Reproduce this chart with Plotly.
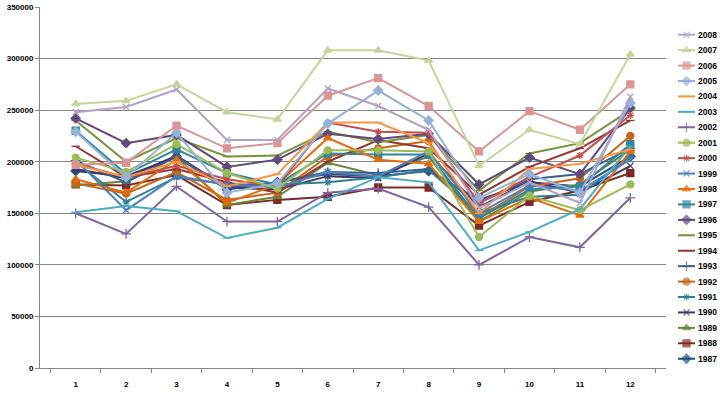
import plotly.graph_objects as go

months = ["1", "2", "3", "4", "5", "6", "7", "8", "9", "10", "11", "12"]
years = [str(y) for y in range(1987, 2009)]

Y1987 = [191000, 186000, 205000, 173000, 180000, 188000, 186000, 191000, 163000, 180000, 176000, 205000]
Y1988 = [178000, 177000, 187000, 158000, 163000, 166000, 175000, 175000, 138000, 161000, 172000, 189000]
Y1989 = [177000, 181000, 205000, 158000, 166000, 199000, 187000, 205000, 142000, 171000, 178000, 212000]
Y1990 = [193000, 184000, 206000, 175000, 173000, 186000, 184000, 208000, 156000, 181000, 170000, 196000]
Y1991 = [200000, 161000, 185000, 178000, 178000, 180000, 185000, 192000, 150000, 166000, 168000, 205000]
Y1992 = [179000, 169000, 190000, 163000, 170000, 205000, 213000, 220000, 146000, 176000, 184000, 225000]
Y1993 = [201000, 180000, 205000, 175000, 180000, 190000, 189000, 193000, 160000, 183000, 188000, 213000]
Y1994 = [215000, 185000, 193000, 180000, 170000, 200000, 221000, 213000, 168000, 195000, 213000, 240000]
Y1995 = [240000, 200000, 223000, 205000, 206000, 229000, 219000, 226000, 172000, 208000, 218000, 250000]
Y1996 = [242000, 218000, 226000, 195000, 202000, 227000, 222000, 227000, 178000, 204000, 188000, 252000]
Y1997 = [230000, 188000, 212000, 189000, 178000, 208000, 207000, 207000, 145000, 173000, 176000, 217000]
Y1998 = [183000, 170000, 202000, 160000, 178000, 223000, 202000, 198000, 142000, 165000, 148000, 210000]
Y1999 = [202000, 153000, 186000, 178000, 175000, 190000, 186000, 210000, 150000, 177000, 172000, 202000]
Y2000 = [198000, 185000, 196000, 183000, 176000, 238000, 229000, 228000, 160000, 185000, 206000, 245000]
Y2001 = [204000, 190000, 217000, 189000, 174000, 211000, 211000, 210000, 127000, 167000, 153000, 178000]
Y2002 = [150000, 130000, 176000, 142000, 142000, 170000, 174000, 156000, 100000, 127000, 117000, 165000]
Y2003 = [151000, 157000, 152000, 126000, 136000, 164000, 185000, 180000, 114000, 132000, 154000, 215000]
Y2004 = [197000, 185000, 200000, 176000, 188000, 238000, 238000, 218000, 150000, 193000, 198000, 212000]
Y2005 = [229000, 185000, 228000, 170000, 179000, 237000, 269000, 240000, 165000, 188000, 170000, 257000]
Y2006 = [197000, 199000, 235000, 213000, 218000, 264000, 281000, 254000, 210000, 249000, 231000, 275000]
Y2007 = [256000, 259000, 275000, 248000, 241000, 308000, 308000, 298000, 196000, 231000, 217000, 304000]
Y2008 = [248000, 253000, 270000, 221000, 221000, 271000, 254000, 231000, 155000, 180000, 160000, 263000]

series = [Y1987, Y1988, Y1989, Y1990, Y1991, Y1992, Y1993, Y1994, Y1995, Y1996, Y1997,
          Y1998, Y1999, Y2000, Y2001, Y2002, Y2003, Y2004, Y2005, Y2006, Y2007, Y2008]

# styles (separate from data)
colors = ["#254E7E", "#7D2A27", "#66863A", "#433463", "#2F7E93", "#C4661C",
          "#376092", "#953735", "#77933C", "#604A7B", "#31859C", "#E46C0A",
          "#4F81BD", "#C0504D", "#9BBB59", "#8064A2", "#4BACC6", "#F79646",
          "#95B3D7", "#D99694", "#C3D69B", "#B3A2C7"]
sym_cycle = ["diamond", "square", "triangle-up", "x-thin-open", "asterisk-open",
             "circle", "cross-thin-open", "line-ew-open", "line-ew-open"]
size_cycle = [7, 7, 7, 6, 6, 7, 7, 6, 6]

W, H = 720, 394
PL, PR, PT, PB = 40, 666, 7, 368

fig = go.Figure()
for i, (name, vals) in enumerate(zip(years, series)):
    fig.add_trace(go.Scatter(
        x=months, y=vals, name=name, mode="lines+markers",
        line=dict(color=colors[i], width=2),
        marker=dict(symbol=sym_cycle[i % 9], size=size_cycle[i % 9], color=colors[i],
                    line=dict(color=colors[i], width=1.3)),
        xaxis="x", yaxis="y", showlegend=False, cliponaxis=False))

# custom legend (top: 2008, bottom: 1987)
LEG_TOP, LEG_STEP = 34.7, 15.43
n = len(years)
for j in range(n):
    i = n - 1 - j
    ypix = LEG_TOP + j * LEG_STEP
    fig.add_trace(go.Scatter(
        x=[0, 0.5, 1], y=[ypix, ypix, ypix], mode="lines+markers",
        line=dict(color=colors[i], width=2),
        marker=dict(symbol=sym_cycle[i % 9], size=[0, size_cycle[i % 9], 0], color=colors[i],
                    line=dict(color=colors[i], width=1.3)),
        xaxis="x2", yaxis="y2", showlegend=False, cliponaxis=False, hoverinfo="skip"))
    fig.add_annotation(x=697 / W, y=1 - ypix / H, xref="paper", yref="paper",
                       text=years[i], showarrow=False, xanchor="left", yanchor="middle",
                       borderpad=0,
                       font=dict(size=8.5, color="#000000", family="Liberation Sans", weight="bold"))

fig.update_layout(
    width=W, height=H, margin=dict(l=0, r=0, t=0, b=0),
    paper_bgcolor="white", plot_bgcolor="white", showlegend=False,
    font=dict(family="Liberation Sans", size=8, color="#000000"),
    xaxis=dict(domain=[PL / W, PR / W], anchor="y", type="category",
               showgrid=False, showline=True, linecolor="#868686", linewidth=1,
               ticks="outside", ticklen=4, tickcolor="#868686", tickson="boundaries",
               ticklabelstandoff=8,
               tickfont=dict(size=8, weight="bold"), automargin=False),
    yaxis=dict(domain=[1 - PB / H, 1 - PT / H], anchor="x", range=[0, 350000],
               dtick=50000, tickformat="d", showgrid=True, gridcolor="#868686",
               gridwidth=1, showline=True, linecolor="#868686", linewidth=1,
               ticks="outside", ticklen=4, tickcolor="#868686", zeroline=False,
               tickfont=dict(size=8, weight="bold"), automargin=False),
    xaxis2=dict(domain=[678 / W, 695 / W], anchor="y2", range=[0, 1], visible=False),
    yaxis2=dict(domain=[0, 1], anchor="x2", range=[H, 0], visible=False),
)

fig.write_html("out.html", config={"displayModeBar": False},
               post_script="document.body.style.margin='0';document.body.style.overflow='hidden';")
